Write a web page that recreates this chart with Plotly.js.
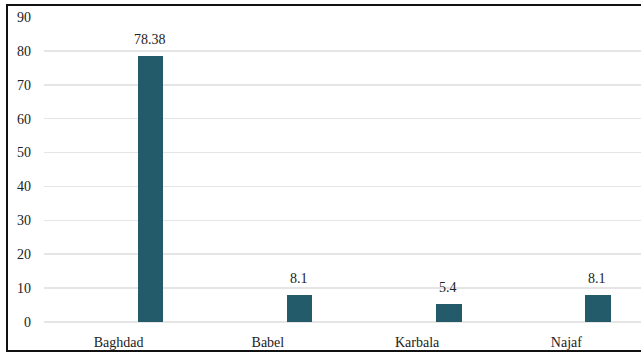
<!DOCTYPE html>
<html>
<head>
<meta charset="utf-8">
<script src="https://cdn.plot.ly/plotly-3.0.1.min.js"></script>
<style>
  html, body { margin: 0; padding: 0; background: #fff; }
  #wrap { position: relative; width: 641px; height: 352px; overflow: hidden; }
  #chart { position: absolute; left: 0; top: 0; width: 641px; height: 352px; }
  #frame { position: absolute; left: 6px; top: 4px; width: 640px; height: 344px;
           border-left: 2px solid #111; border-top: 2px solid #111; border-bottom: 2px solid #111;
           pointer-events: none; }
</style>
</head>
<body>
<div id="wrap">
  <div id="chart"></div>
  <div id="frame"></div>
</div>
<script>
const categories = ["Baghdad", "Babel", "Karbala", "Najaf"];
const values = [78.38, 8.1, 5.4, 8.1];
const valueLabels = ["78.38", "8.1", "5.4", "8.1"];
const yTicks = [0, 10, 20, 30, 40, 50, 60, 70, 80, 90];

const serif = "Liberation Serif, Times New Roman, serif";

const trace = {
  type: "bar",
  x: categories,
  y: values,
  width: 0.17,
  offset: 0.128,
  marker: { color: "#245b6a" },
  hoverinfo: "none"
};

const annotations = categories.map((c, i) => ({
  x: c,
  y: values[i],
  xref: "x",
  yref: "y",
  text: valueLabels[i],
  showarrow: false,
  xanchor: "center",
  yanchor: "bottom",
  xshift: 31,
  yshift: 7,
  font: { family: serif, size: 14, color: "#222" }
}));

const layout = {
  width: 641,
  height: 352,
  margin: { l: 44, r: 0, t: 17, b: 30 },
  paper_bgcolor: "#ffffff",
  plot_bgcolor: "#ffffff",
  showlegend: false,
  font: { family: serif, size: 14, color: "#222" },
  annotations: annotations,
  xaxis: {
    type: "category",
    range: [-0.5, 3.5],
    showgrid: false,
    zeroline: false,
    showline: false,
    ticks: "",
    ticklabelstandoff: 10,
    tickfont: { family: serif, size: 14, color: "#222" }
  },
  yaxis: {
    range: [0, 90],
    tickvals: yTicks,
    ticktext: yTicks.map(String),
    showgrid: true,
    gridcolor: "#e5e5e5",
    gridwidth: 1.5,
    zeroline: true,
    zerolinecolor: "#e5e5e5",
    zerolinewidth: 1.5,
    showline: false,
    ticks: "",
    ticklabelstandoff: 12,
    tickfont: { family: serif, size: 14, color: "#222" }
  },
  bargap: 0
};

Plotly.newPlot("chart", [trace], layout, { staticPlot: true, displayModeBar: false });
</script>
</body>
</html>
